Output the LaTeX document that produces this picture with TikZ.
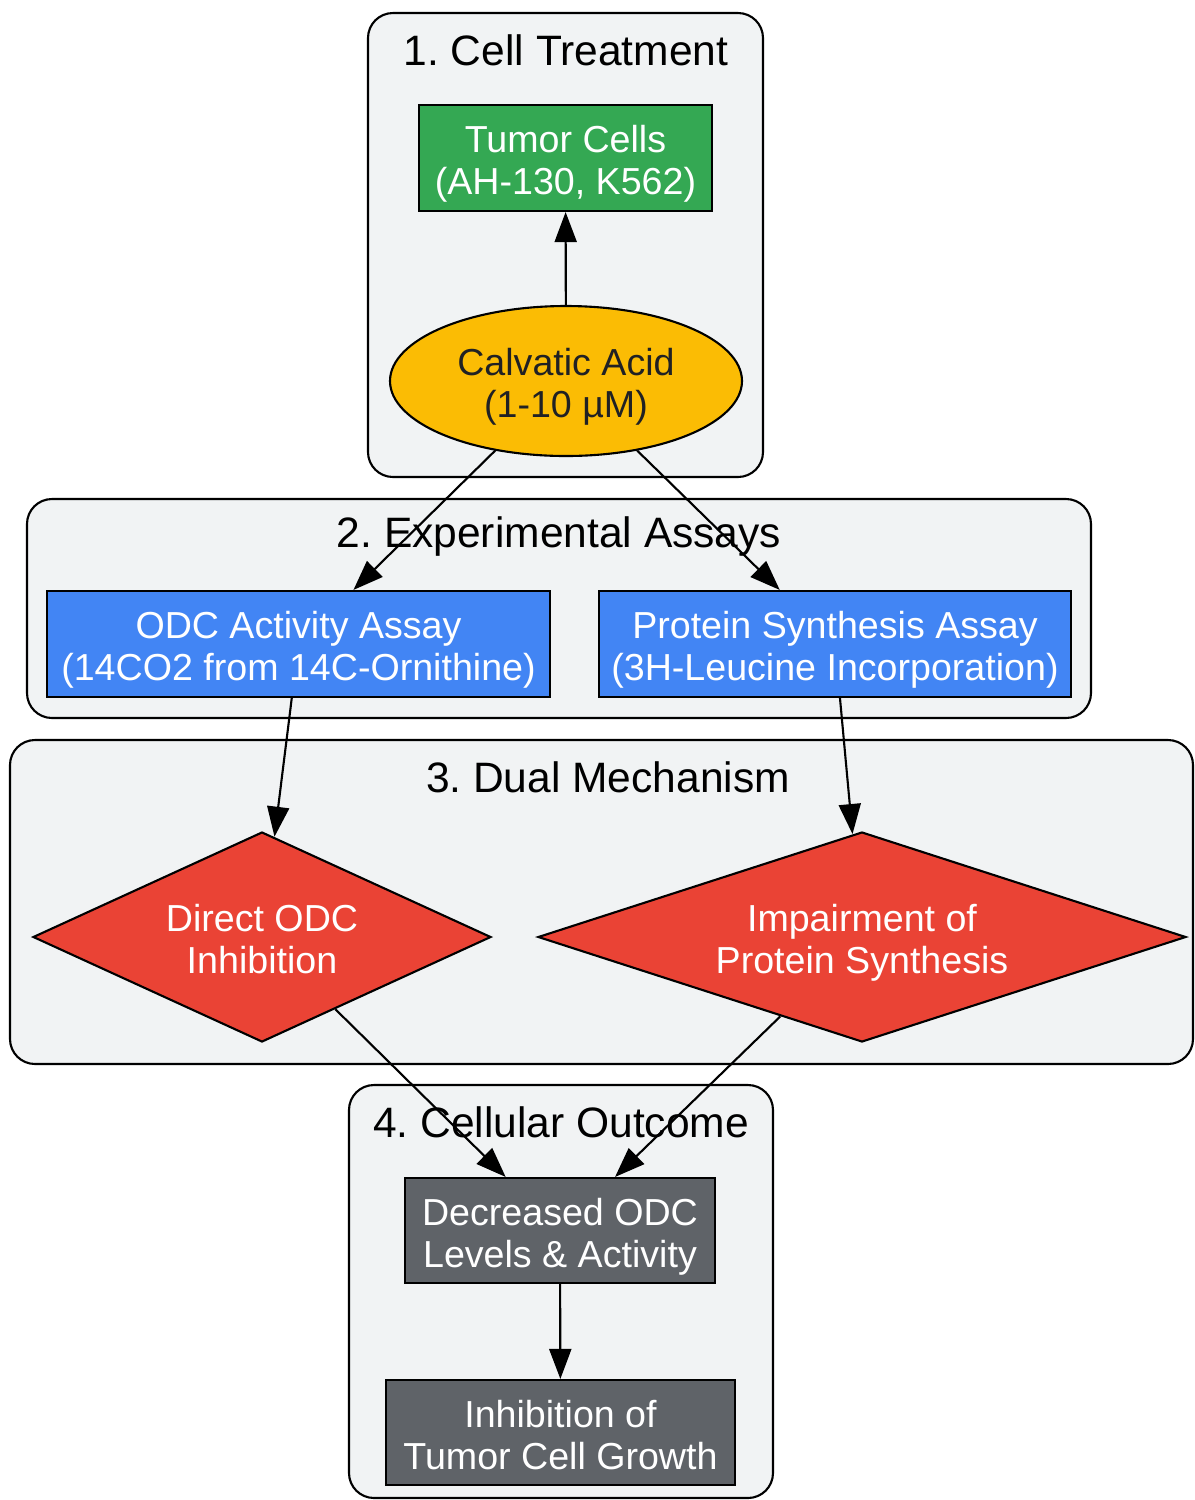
\documentclass[tikz,border=0pt]{standalone}
\usepackage{fontspec}
\setmainfont{Liberation Sans}
\frenchspacing
\usetikzlibrary{shapes.geometric,arrows.meta}

\definecolor{clusterbg}{HTML}{F1F3F4}
\definecolor{cellgreen}{HTML}{34A853}
\definecolor{acidyellow}{HTML}{FBBC04}
\definecolor{assayblue}{HTML}{4285F4}
\definecolor{mechred}{HTML}{EA4335}
\definecolor{outgray}{HTML}{5F6368}
\definecolor{darktext}{HTML}{202124}

\tikzset{
  cluster/.style={draw=black, line width=0.6pt, fill=clusterbg, rounded corners=0.25cm},
  title/.style={font=\fontsize{12.1}{13.8}\selectfont},
  box/.style={draw=black, line width=0.6pt, rectangle, inner sep=0pt, align=center,
    text=white, font=\fontsize{10.7}{11.95}\selectfont, text height=21pt, text depth=0pt},
  conn/.style={line width=0.6pt, -{Triangle[length=0.3cm,width=0.22cm]}}
}

\begin{document}
\begin{tikzpicture}

\useasboundingbox (0, 0) rectangle (11.95, -15);

% clusters
\draw[cluster] (3.68, -0.13) rectangle (7.63, -4.77);
\draw[cluster] (0.27, -4.99) rectangle (10.91, -7.18);
\draw[cluster] (0.10, -7.40) rectangle (11.93, -10.64);
\draw[cluster] (3.49, -10.85) rectangle (7.73, -14.98);

\node[title] (t1) at (5.66, -0.50) {1. Cell Treatment};
\node[title] (t2) at (5.59, -5.36) {2. Experimental Assays};
\node[title] (t3) at (6.08, -7.77) {3. Dual Mechanism};
\node[title] (t4) at (5.61, -11.22) {4. Cellular Outcome};

% 1. cell treatment
\node[box, fill=cellgreen, minimum width=2.93cm, minimum height=1.06cm] (cells) at (5.655, -1.58) {Tumor Cells\\(AH-130, K562)};
\node[box, ellipse, fill=acidyellow, text=darktext, minimum width=3.52cm, minimum height=1.50cm] (acid) at (5.66, -3.81) {Calvatic Acid\\(1-10 µM)};

% 2. assays
\node[box, fill=assayblue, minimum width=5.03cm, minimum height=1.06cm] (odc) at (2.985, -6.44) {ODC Activity Assay\\(14CO2 from 14C-Ornithine)};
\node[box, fill=assayblue, minimum width=4.72cm, minimum height=1.06cm] (prot) at (8.35, -6.44) {Protein Synthesis Assay\\(3H-Leucine Incorporation)};

% 3. mechanism
\node[box, diamond, aspect=2.2, fill=mechred, minimum width=4.58cm, minimum height=2.10cm] (inhib) at (2.62, -9.37) {Direct ODC\\Inhibition};
\node[box, diamond, aspect=3.1, fill=mechred, minimum width=6.48cm, minimum height=2.10cm] (impair) at (8.62, -9.37) {Impairment of\\Protein Synthesis};

% 4. outcome
\node[box, fill=outgray, minimum width=3.10cm, minimum height=1.05cm] (decr) at (5.60, -12.305) {Decreased ODC\\Levels \& Activity};
\node[box, fill=outgray, minimum width=3.49cm, minimum height=1.05cm] (growth) at (5.605, -14.325) {Inhibition of\\Tumor Cell Growth};

% connectors
\draw[conn] (acid) -- (cells);
\draw[conn] (acid) -- (odc);
\draw[conn] (acid) -- (prot);
\draw[conn] (odc) -- (inhib);
\draw[conn] (prot) -- (impair);
\draw[conn] (inhib) -- (decr);
\draw[conn] (impair) -- (decr);
\draw[conn] (decr) -- (growth);

\end{tikzpicture}
\end{document}
